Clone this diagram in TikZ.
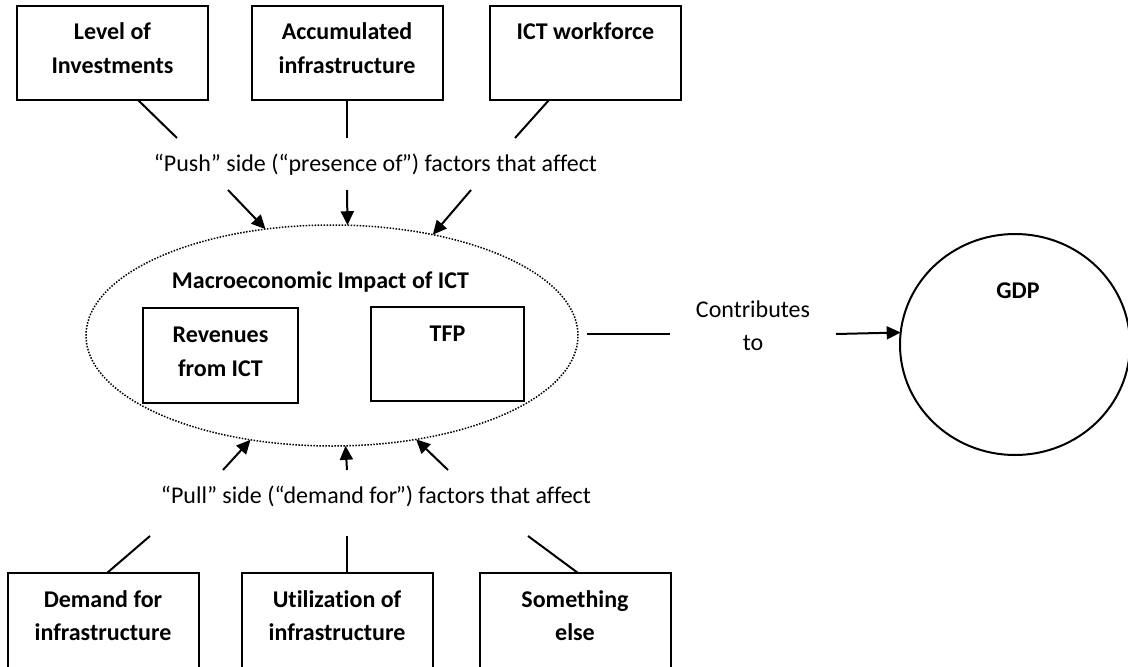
\documentclass[tikz,border=0pt]{standalone}
\usepackage{fontspec}
\setmainfont{Carlito}[Ligatures={NoCommon}]
\usetikzlibrary{arrows.meta,shapes.geometric}
\begin{document}
\begin{tikzpicture}[x=1pt,y=-1pt,
  box/.style={draw,line width=2pt,rectangle,inner sep=0pt,outer sep=0pt,minimum width=191pt},
  lbl/.style={inner sep=0pt,outer sep=0pt,anchor=base,font=\fontsize{24}{28}\selectfont\bfseries},
  txt/.style={inner sep=0pt,outer sep=0pt,anchor=base,font=\fontsize{24}{28}\selectfont},
  conn/.style={line width=2pt},
  arr/.style={line width=2pt,-{Triangle[length=14pt,width=13pt]}},
]
\useasboundingbox (0,0) rectangle (1128,667);
\clip (0,0) rectangle (1128,667);
\fill[white] (0,0) rectangle (1128,667);

% top boxes
\node[box,minimum height=94pt] (t1) at (112.5,53) {};
\node[box,minimum height=94pt] (t2) at (347,53) {};
\node[box,minimum height=94pt] (t3) at (585.5,53) {};
\node[lbl] (t1a) at (112.5,39) {Level of};
\node[lbl] (t1b) at (112.5,73) {Investments};
\node[lbl] (t2a) at (347,39) {Accumulated};
\node[lbl] (t2b) at (347,73) {infrastructure};
\node[lbl] (t3a) at (585.5,39) {ICT workforce};

% push text
\node[txt] (push) at (375.5,171) {“Push” side (“presence of\kern-0.8pt”) factors that affect};

% central ellipse
\node[draw,ellipse,minimum width=492pt,minimum height=221pt,inner sep=0pt,outer sep=0pt,
      line width=1.5pt,dash pattern=on 1.5pt off 1.5pt] (E) at (332,335.5) {};
\node[lbl] (macro) at (320.5,288) {Macroeconomic Impact of ICT};
\node[box,minimum width=155pt,minimum height=95pt] (rev) at (220.5,355.5) {};
\node[lbl] (reva) at (220.5,342) {Revenues};
\node[lbl] (revb) at (220.5,376) {from ICT};
\node[box,minimum width=153pt,minimum height=94pt] (tfp) at (447.5,354) {};
\node[lbl] (tfpa) at (447.5,341) {TFP};

% pull text
\node[txt] (pull) at (376,503) {“Pull” side (“demand for\kern-1.5pt”) factors that affect};

% bottom boxes
\node[box,minimum height=100pt] (b1) at (103,623) {};
\node[box,minimum height=100pt] (b2) at (337,623) {};
\node[box,minimum height=100pt] (b3) at (575,623) {};
\node[lbl] (b1a) at (103,607) {Demand for};
\node[lbl] (b1b) at (103,640) {infrastructure};
\node[lbl] (b2a) at (337,607) {Utilization of};
\node[lbl] (b2b) at (337,640) {infrastructure};
\node[lbl] (b3a) at (575,607) {Something};
\node[lbl] (b3b) at (575,640) {else};

% GDP
\node[draw,ellipse,minimum width=230pt,minimum height=221pt,inner sep=0pt,outer sep=0pt,
      line width=2pt] (G) at (1015,344.5) {};
\node[lbl] (gdp) at (1018,298) {GDP};

% contributes
\node[txt] (con1) at (753,317) {Contributes};
\node[txt] (con2) at (753,350) {to};

% free ends
\coordinate (p1) at (177,138);
\coordinate (p2) at (347,138);
\coordinate (p3) at (515,138);
\coordinate (q1) at (228,190);
\coordinate (q2) at (347,190);
\coordinate (q3) at (471,190);
\coordinate (r1) at (223,470);
\coordinate (r2) at (347,470);
\coordinate (r3) at (448,470);
\coordinate (s1) at (150,536);
\coordinate (s2) at (347,536);
\coordinate (s3) at (528,536);
\coordinate (c1) at (670,334);
\coordinate (c2) at (836,334);

% connectors
\draw[conn] ([xshift=25.5pt]t1.south) -- (p1);
\draw[conn] (t2.south) -- (p2);
\draw[conn] ([xshift=-36.5pt]t3.south) -- (p3);
\draw[arr] (q1) -- (E.122.2);
\draw[arr] (q2) -- (E.82.2);
\draw[arr] (q3) -- (E.45.1);
\draw[arr] (r1) -- (E.232.6);
\draw[arr] (r2) -- (E.277.8);
\draw[arr] (r3) -- (E.309.3);
\draw[conn] ([xshift=4pt]b1.north) -- (s1);
\draw[conn] ([xshift=10pt]b2.north) -- (s2);
\draw[conn] ([xshift=3pt]b3.north) -- (s3);
\draw[conn] ([xshift=9pt,yshift=1.5pt]E.east) -- (c1);
\draw[arr] (c2) -- (G.174.8);
\end{tikzpicture}
\end{document}
